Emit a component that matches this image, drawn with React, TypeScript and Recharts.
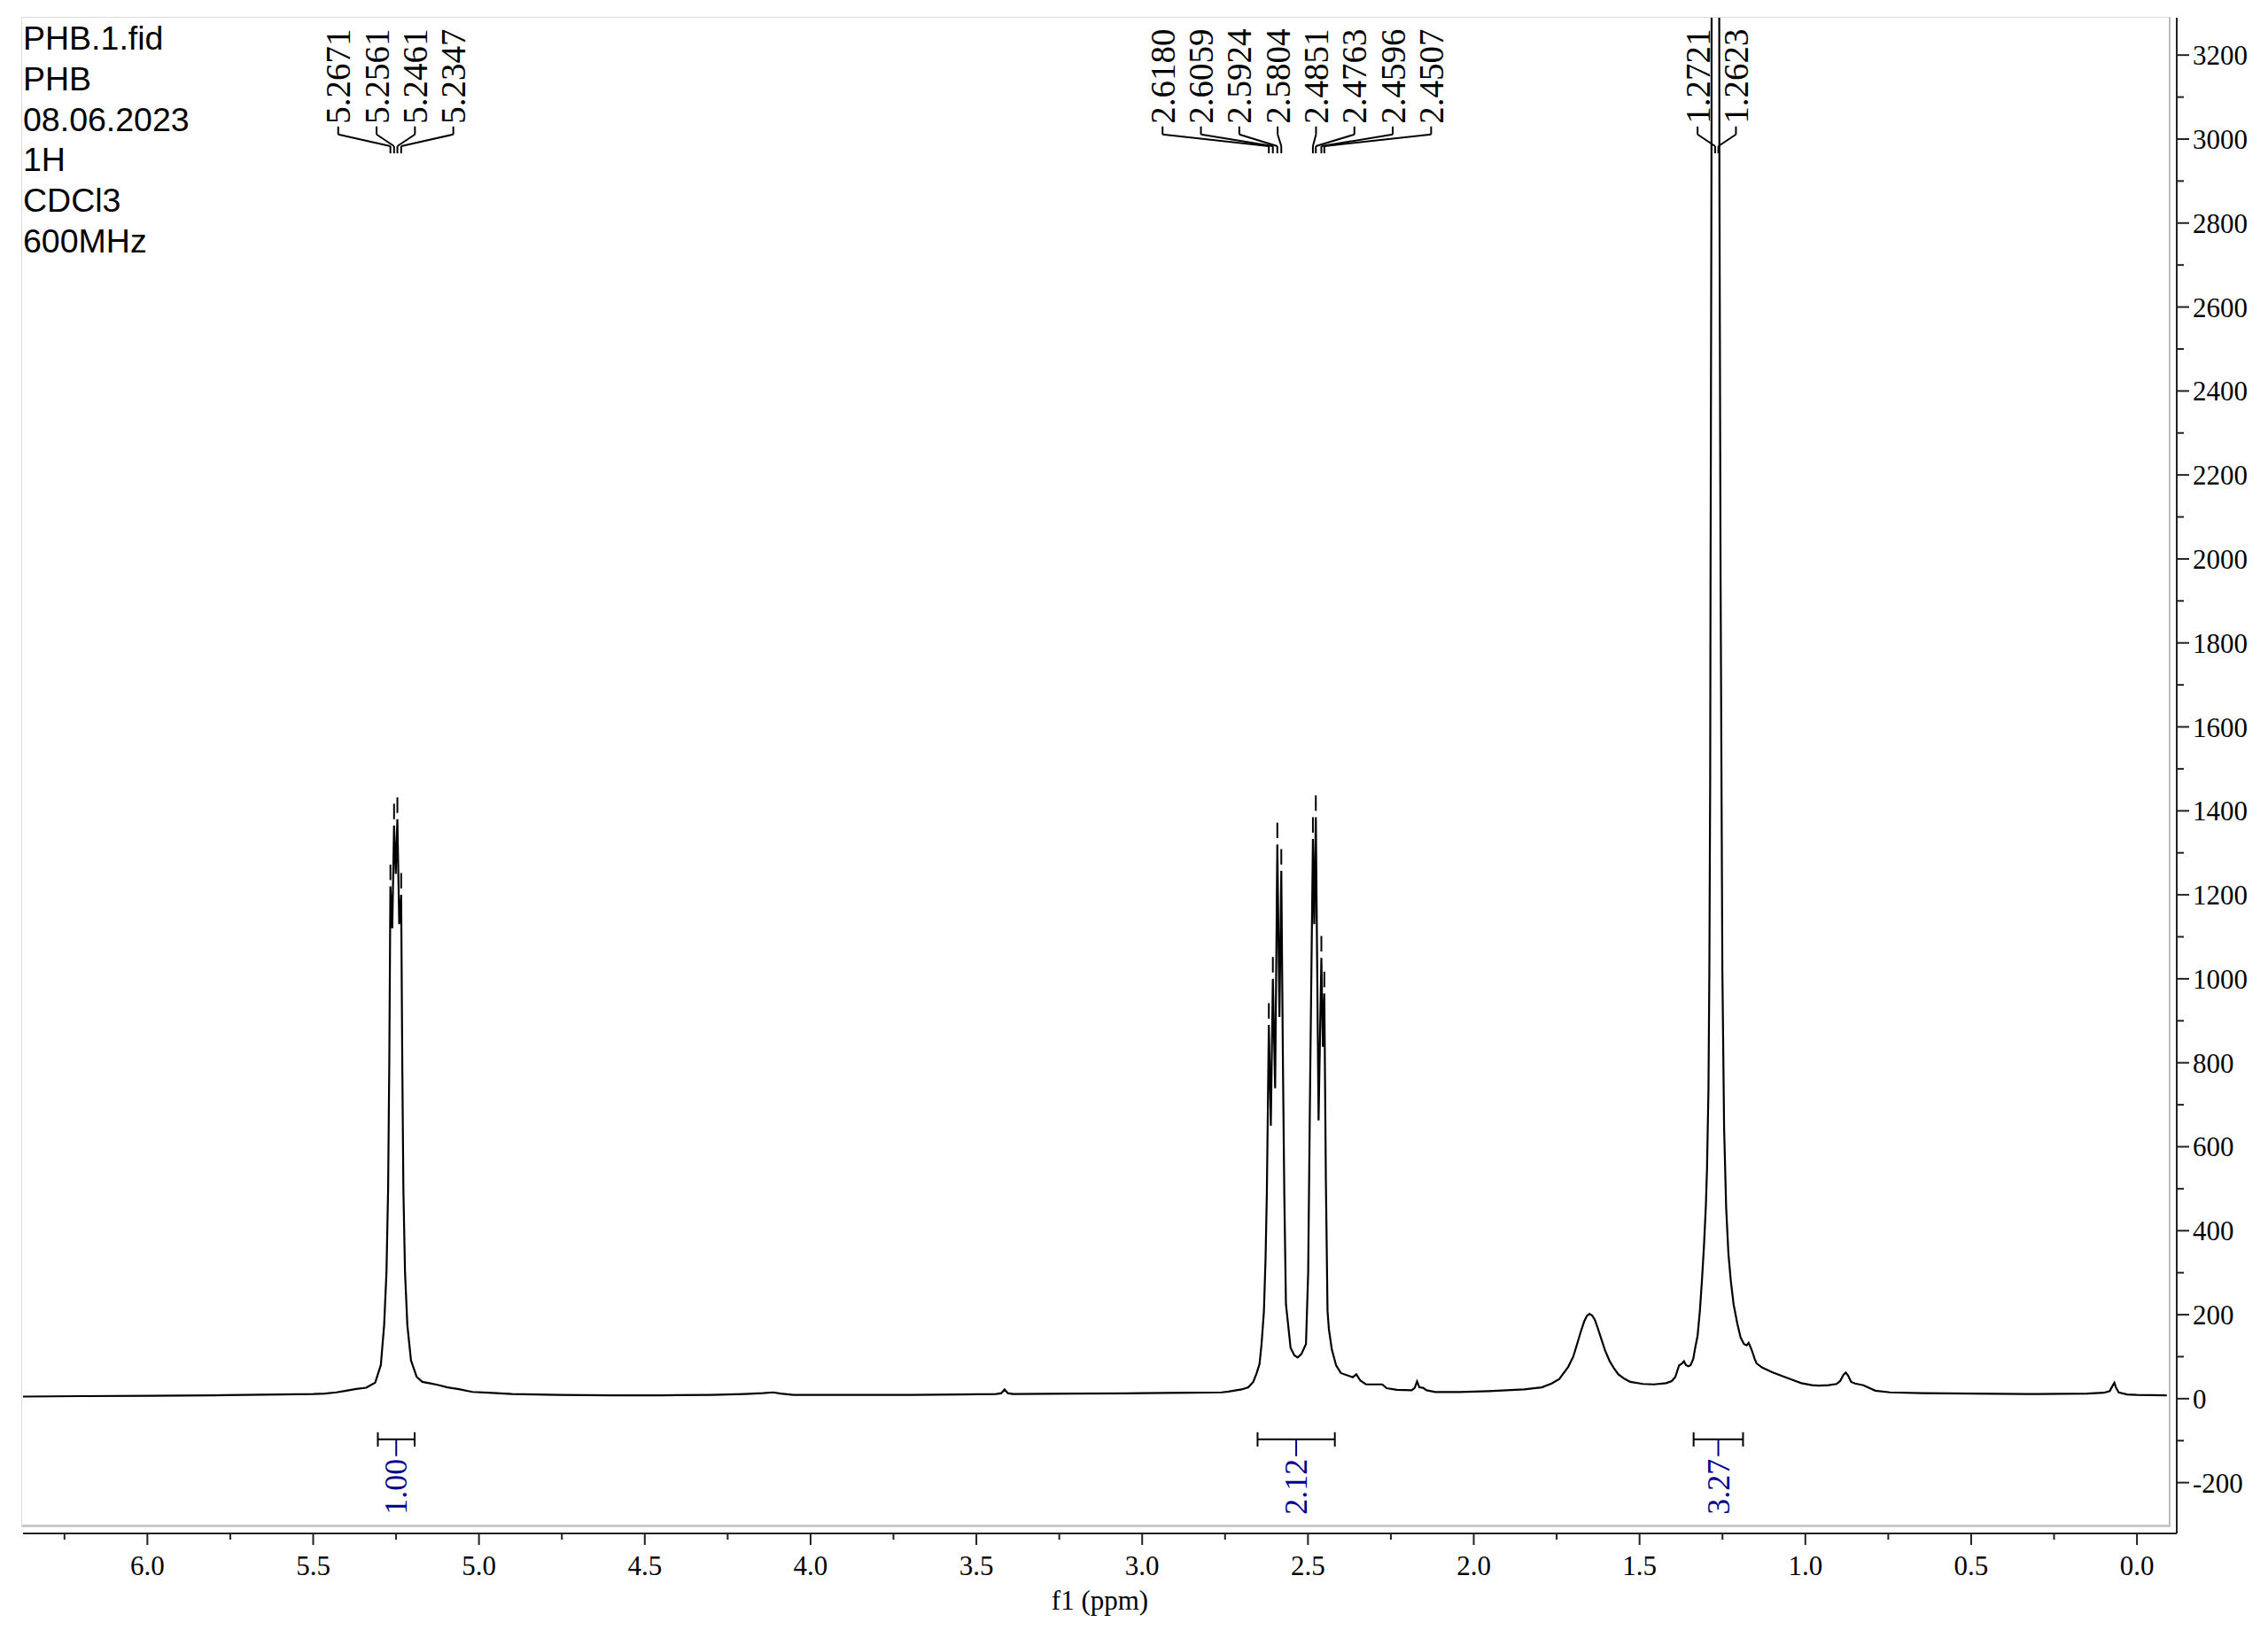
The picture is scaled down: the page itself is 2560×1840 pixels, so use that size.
import React from 'react';
import { LineChart, Line, XAxis, YAxis, ReferenceLine } from 'recharts';

// 1H trace: chemical shift (ppm) and intensity, left to right
const shifts = [
  6.375, 6.2, 6.0, 5.8, 5.6, 5.5, 5.465, 5.43, 5.4, 5.37, 5.34, 5.325, 5.313, 5.296, 5.286, 5.279, 5.274, 5.2705,
  5.2671, 5.2615, 5.2561, 5.251, 5.2461, 5.2405, 5.2347, 5.2313, 5.228, 5.223, 5.216, 5.205, 5.188, 5.171, 5.15,
  5.125, 5.095, 5.064, 5.02, 4.972, 4.9, 4.758, 4.6, 4.45, 4.3, 4.2, 4.144, 4.113, 4.09, 4.052, 3.9, 3.7, 3.55,
  3.44, 3.425, 3.415, 3.405, 3.39, 3.2, 3.0, 2.85, 2.76, 2.74, 2.7, 2.68, 2.665, 2.655, 2.646, 2.64, 2.633, 2.628,
  2.624, 2.618, 2.612, 2.6059, 2.599, 2.5924, 2.586, 2.5804, 2.5755, 2.5714, 2.5664, 2.5524, 2.541, 2.531, 2.52,
  2.506, 2.4994, 2.4932, 2.4851, 2.481, 2.4763, 2.468, 2.4596, 2.455, 2.4507, 2.446, 2.441, 2.437, 2.428, 2.415,
  2.401, 2.365, 2.354, 2.342, 2.325, 2.276, 2.263, 2.232, 2.187, 2.178, 2.171, 2.164, 2.153, 2.142, 2.116, 2.044,
  1.955, 1.848, 1.795, 1.765, 1.742, 1.715, 1.7, 1.688, 1.677, 1.667, 1.659, 1.651, 1.643, 1.635, 1.626, 1.617, 1.604,
  1.59, 1.577, 1.564, 1.545, 1.528, 1.49, 1.457, 1.42, 1.403, 1.392, 1.381, 1.372, 1.366, 1.36, 1.353, 1.346, 1.338,
  1.333, 1.325, 1.318, 1.312, 1.306, 1.3, 1.2966, 1.2922, 1.2895, 1.287, 1.2859, 1.2832, 1.2825, 1.2721, 1.267,
  1.2623, 1.26, 1.2592, 1.2557, 1.2525, 1.2503, 1.245, 1.2388, 1.232, 1.225, 1.2165, 1.205, 1.195, 1.185, 1.177,
  1.171, 1.166, 1.16, 1.153, 1.147, 1.13, 1.1, 1.074, 1.04, 1.012, 0.98, 0.959, 0.93, 0.906, 0.895, 0.885, 0.878,
  0.871, 0.862, 0.85, 0.825, 0.8, 0.789, 0.745, 0.65, 0.5, 0.3, 0.15, 0.1, 0.082, 0.074, 0.068, 0.063, 0.055, 0.03,
  0.0, -0.09,
];
const intensities = [
  5, 6, 7, 8, 10, 11, 12, 15, 19, 23, 26, 33, 38, 80, 175, 300, 500, 800,
  1220, 1120, 1365, 1250, 1380, 1130, 1200, 800, 500, 300, 175, 91, 52, 40, 37,
  33, 27, 23, 16, 14, 11, 9, 8, 8, 9, 11, 13, 15, 12, 9, 9, 9, 10,
  11, 13, 22, 13, 11, 12, 13, 14, 15, 17, 22, 27, 40, 60, 83, 130, 206, 330,
  489, 890, 650, 1000, 739, 1320, 909, 1257, 800, 489, 225, 121, 103, 98, 106,
  130, 300, 772, 1333, 1130, 1385, 663, 1050, 838, 965, 520, 209, 166, 117, 79,
  61, 51, 58, 43, 34, 34, 25, 21, 20, 26, 41, 27, 26, 20, 16, 16,
  18, 22, 27, 36, 47, 76, 100, 131, 160, 184, 197, 202, 198, 188, 168, 146, 115,
  89, 72, 58, 47, 40, 35, 34, 37, 42, 52, 79, 84, 89, 80, 77, 80, 95,
  118, 150, 210, 280, 360, 460, 548, 737, 1021, 1480, 1964, 2909, 3500, 9200, 7400,
  9000, 3500, 2909, 1964, 1400, 1021, 643, 454, 345, 282, 225, 178, 145, 130, 127,
  133, 124, 112, 95, 84, 74, 63, 55, 45, 37, 32, 31, 32, 35, 42, 57, 62,
  55, 40, 36, 32, 23, 19, 15, 13, 12, 11, 12, 14, 18, 30, 38, 26, 15, 10,
  9, 8,
];

const peakGroups = [
  [5.2671, 5.2561, 5.2461, 5.2347],
  [2.618, 2.6059, 2.5924, 2.5804, 2.4851, 2.4763, 2.4596, 2.4507],
  [1.2721, 1.2623],
];

const integralRanges = [
  [5.305, 5.194],
  [2.652, 2.419],
  [1.337, 1.188],
];
const integralValues = ['1.00', '2.12', '3.27'];

const xMajorTicks = [6.0, 5.5, 5.0, 4.5, 4.0, 3.5, 3.0, 2.5, 2.0, 1.5, 1.0, 0.5, 0.0];
const xMinorTicks = [6.25, 5.75, 5.25, 4.75, 4.25, 3.75, 3.25, 2.75, 2.25, 1.75, 1.25, 0.75, 0.25];
const yMajorTicks = [-200, 0, 200, 400, 600, 800, 1000, 1200, 1400, 1600, 1800, 2000, 2200, 2400, 2600, 2800, 3000, 3200];
const yMinorTicks = [-100, 100, 300, 500, 700, 900, 1100, 1300, 1500, 1700, 1900, 2100, 2300, 2500, 2700, 2900, 3100];

const titleLines = ['PHB.1.fid', 'PHB', '08.06.2023', '1H', 'CDCl3', '600MHz'];

const SERIF = '"Liberation Serif", "Times New Roman", serif';
const SANS = '"Liberation Sans", Arial, sans-serif';
const INTEGRAL_BLUE = '#00008b';

const spectrum = shifts.map((ppm, i) => ({ ppm, value: intensities[i] }));
const xTicks = [...xMajorTicks, ...xMinorTicks].sort((a, b) => b - a);
const yTicks = [...yMajorTicks, ...yMinorTicks].sort((a, b) => a - b);

// label column spacing (ppm) and the heights of the leader bracket
const LABEL_STEP = 0.1157;
const LABEL_BASE = 3030;
const BRACKET_TOP = 3011;
const BRACKET_FOOT = 2983;
const BRACKET_END = 2966;

const heightAt = (ppm: number) => intensities[shifts.indexOf(ppm)];
const isIn = (list: number[], v: number) => list.some((t) => Math.abs(t - v) < 1e-6);

const XTick = (props: any) => {
  const { x, y, payload } = props;
  const major = isIn(xMajorTicks, payload.value);
  return (
    <g>
      <line x1={x} x2={x} y1={y} y2={y + (major ? 13 : 7)} stroke="#222" strokeWidth={2} />
      {major && (
        <text x={x} y={y + 47} textAnchor="middle" fontFamily={SERIF} fontSize={31} fill="#000">
          {payload.value.toFixed(1)}
        </text>
      )}
    </g>
  );
};

const YTick = (props: any) => {
  const { x, y, payload } = props;
  const major = isIn(yMajorTicks, payload.value);
  return (
    <g>
      <line x1={x} x2={x + (major ? 14 : 8)} y1={y} y2={y} stroke="#222" strokeWidth={2} />
      {major && (
        <text x={x + 18} y={y + 11} textAnchor="start" fontFamily={SERIF} fontSize={31} fill="#000">
          {String(payload.value)}
        </text>
      )}
    </g>
  );
};

const PeakText = (props: any) => {
  const { viewBox, text } = props;
  const x = viewBox.x;
  const y = viewBox.y - 3;
  return (
    <text x={x} y={y} transform={`rotate(-90 ${x} ${y})`} textAnchor="start" dominantBaseline="central"
      fontFamily={SERIF} fontSize={39} fill="#000">
      {text}
    </text>
  );
};

const IntegralText = (props: any) => {
  const { viewBox, text } = props;
  const x = viewBox.x;
  const y = viewBox.y + viewBox.height + 3;
  return (
    <text x={x} y={y} transform={`rotate(-90 ${x} ${y})`} textAnchor="end" dominantBaseline="central"
      fontFamily={SERIF} fontSize={36} fill={INTEGRAL_BLUE}>
      {text}
    </text>
  );
};

const AxisTitle = (props: any) => {
  const { viewBox } = props;
  return (
    <text x={viewBox.x + viewBox.width / 2} y={viewBox.y + 86} textAnchor="middle" fontFamily={SERIF} fontSize={31} fill="#000">
      f1 (ppm)
    </text>
  );
};

const App: React.FC = () => {
  const peakAnnotations = peakGroups.flatMap((group, g) => {
    const center = group.reduce((s, p) => s + p, 0) / group.length;
    return group.flatMap((peak, i) => {
      const lx = center + ((group.length - 1) / 2 - i) * LABEL_STEP;
      const h = heightAt(peak);
      return [
        <ReferenceLine key={`lv-${g}-${i}`} segment={[{ x: lx, y: LABEL_BASE }, { x: lx, y: BRACKET_TOP }]}
          stroke="#000" strokeWidth={2} label={<PeakText text={peak.toFixed(4)} />} />,
        <ReferenceLine key={`ld-${g}-${i}`} segment={[{ x: lx, y: BRACKET_TOP }, { x: peak, y: BRACKET_FOOT }]}
          stroke="#000" strokeWidth={2} />,
        <ReferenceLine key={`lp-${g}-${i}`} segment={[{ x: peak, y: BRACKET_FOOT }, { x: peak, y: BRACKET_END }]}
          stroke="#000" strokeWidth={2} />,
        <ReferenceLine key={`pk-${g}-${i}`} segment={[{ x: peak, y: h + 15 }, { x: peak, y: h + 52 }]}
          stroke="#000" strokeWidth={2} />,
      ];
    });
  });

  const integralAnnotations = integralRanges.flatMap(([a, b], k) => {
    const c = (a + b) / 2;
    return [
      <ReferenceLine key={`ih-${k}`} segment={[{ x: a, y: -97 }, { x: b, y: -97 }]} stroke="#000" strokeWidth={2} />,
      <ReferenceLine key={`ia-${k}`} segment={[{ x: a, y: -80 }, { x: a, y: -114 }]} stroke="#000" strokeWidth={2} />,
      <ReferenceLine key={`ib-${k}`} segment={[{ x: b, y: -80 }, { x: b, y: -114 }]} stroke="#000" strokeWidth={2} />,
      <ReferenceLine key={`ic-${k}`} segment={[{ x: c, y: -97 }, { x: c, y: -137 }]} stroke={INTEGRAL_BLUE} strokeWidth={2}
        label={<IntegralText text={integralValues[k]} />} />,
    ];
  });

  return (
    <div style={{ position: 'absolute', left: 0, top: 0, width: 2560, height: 1840, background: '#fff' }}>
      {/* plot frame */}
      <div
        style={{
          position: 'absolute', left: 24, top: 19, width: 2426, height: 1705, boxSizing: 'border-box',
          borderTop: '1px solid #dcdcdc', borderLeft: '1px solid #dcdcdc',
          borderRight: '2px solid #bdbdbd', borderBottom: '3px solid #c8c8c8',
        }}
      />
      <div style={{ position: 'absolute', left: 0, top: 0 }}>
        <LineChart width={2560} height={1840} data={spectrum} margin={{ top: 20, right: 0, bottom: 0, left: 26 }}>
          <XAxis dataKey="ppm" type="number" domain={[-0.12, 6.375]} reversed allowDataOverflow
            ticks={xTicks} interval={0} tickLine={false} tickSize={0} tickMargin={0} tick={<XTick />}
            height={109} axisLine={{ stroke: '#222', strokeWidth: 2 }} label={<AxisTitle />} />
          <YAxis orientation="right" type="number" domain={[-321, 3289]} allowDataOverflow
            ticks={yTicks} interval={0} tickLine={false} tickSize={0} tickMargin={0} tick={<YTick />}
            width={103} axisLine={{ stroke: '#222', strokeWidth: 2 }} />
          <Line type="linear" dataKey="value" stroke="#000" strokeWidth={2.2} dot={false} isAnimationActive={false} />
          {peakAnnotations}
          {integralAnnotations}
        </LineChart>
      </div>
      <div style={{ position: 'absolute', left: 26, top: 21, fontFamily: SANS, fontSize: 37.5, lineHeight: '45.8px', color: '#000' }}>
        {titleLines.map((t) => (
          <div key={t}>{t}</div>
        ))}
      </div>
    </div>
  );
};

export default App;
